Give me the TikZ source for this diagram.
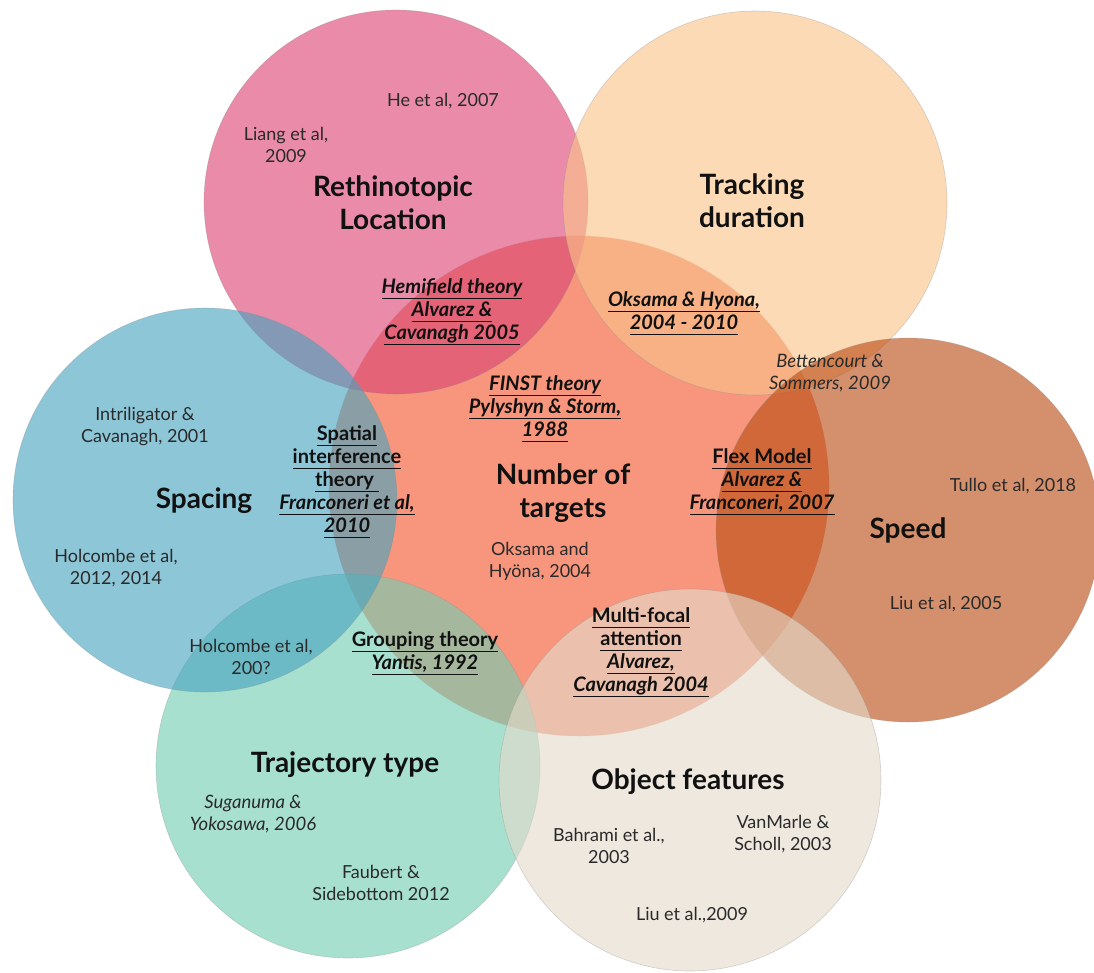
\documentclass[tikz,border=0pt]{standalone}
\usepackage{fontspec}
\setmainfont{Lato}
\definecolor{cCenter}{HTML}{F7967D}
\definecolor{cPink}{HTML}{DB4474}
\definecolor{cPeach}{HTML}{FAC389}
\definecolor{cSpeed}{HTML}{BA4C12}
\definecolor{cBlue}{HTML}{47A3BF}
\definecolor{cGreen}{HTML}{73CDB3}
\definecolor{cBeige}{HTML}{E4DACA}
\definecolor{txt}{HTML}{2A2A2A}
\definecolor{ttl}{HTML}{111111}
\newcommand\uln[1]{\underline{#1\vphantom{gy}}}
\tikzset{
  venn/.style={circle, inner sep=0pt, minimum size=#1, fill opacity=0.62, draw=black!45, draw opacity=0.35, line width=0.6pt},
  ref/.style={font=\fontsize{18}{22}\selectfont, align=center, text=txt, inner sep=0pt},
  refit/.style={font=\fontsize{18.5}{22}\selectfont\itshape, align=center, text=txt, inner sep=0pt},
  ttitle/.style={font=\fontsize{28}{33}\selectfont\bfseries, align=center, text=ttl, inner sep=0pt},
  theory/.style={font=\fontsize{20}{23}\selectfont\bfseries, align=center, text=ttl, inner sep=0pt}
}
\begin{document}
\begin{tikzpicture}[x=1pt,y=-1pt]
\useasboundingbox (0,0) rectangle (1094,972);
% circles (bottom to top)
\node[circle, inner sep=0pt, minimum size=500pt, fill=cCenter, draw=black!30, draw opacity=0.3, line width=0.6pt] (cnum) at (579,486) {};
\node[venn=384pt, fill=cPink] (cret) at (396,202) {};
\node[venn=384pt, fill=cPeach] (ctrk) at (755,203) {};
\node[venn=384pt, fill=cSpeed] (cspd) at (908,530) {};
\node[venn=384pt, fill=cGreen] (ctraj) at (348,766) {};
\node[venn=384pt, fill=cBlue] (cspc) at (205,500) {};
\node[venn=382pt, fill=cBeige] (cobj) at (690,780) {};
% titles
\node[ttitle] (tret) at (393,203) {Rethinotopic\\Location};
\node[ttitle] (ttrk) at (752,201) {Tracking\\duration};
\node[ttitle] (tspc) at (204,501) {Spacing};
\node[ttitle] (tnum) at (563,493) {Number of\\targets};
\node[ttitle] (tspd) at (908,530) {Speed};
\node[ttitle] (ttraj) at (345,765) {Trajectory type};
\node[ttitle] (tobj) at (688,782) {Object features};
% references
\node[ref] (he) at (443,101) {He et al, 2007};
\node[ref] (liang) at (286,145) {Liang et al,\\2009};
\node[refit] (bett) at (830,373) {Bettencourt \&\\Sommers, 2009};
\node[ref] (intr) at (145,427) {Intriligator \&\\Cavanagh, 2001};
\node[ref] (tullo) at (1013,486) {Tullo et al, 2018};
\node[ref] (holc1) at (116,568) {Holcombe et al,\\2012, 2014};
\node[ref] (oks) at (540,561) {Oksama and\\Hyöna, 2004};
\node[ref] (liu05) at (946,604) {Liu et al, 2005};
\node[ref] (holc2) at (251,657) {Holcombe et al,\\200?};
\node[refit] (sug) at (253,814) {Suganuma \&\\Yokosawa, 2006};
\node[ref] (vanm) at (783,834) {VanMarle \&\\Scholl, 2003};
\node[ref] (bahr) at (609,846) {Bahrami et al.,\\2003};
\node[ref] (faub) at (381,883) {Faubert \&\\Sidebottom 2012};
\node[ref] (liu09) at (692,915) {Liu et al.,2009};
% theories
\node[theory] (hemi) at (452,312) {\itshape\uln{Hemifield theory}\\\itshape\uln{Alvarez \&}\\\itshape\uln{Cavanagh 2005}};
\node[theory] (oksh) at (684,313) {\itshape\uln{Oksama \& Hyona,}\\\itshape\uln{2004 - 2010}};
\node[theory] (finst) at (545,409) {\itshape\uln{FINST theory}\\\itshape\uln{Pylyshyn \& Storm,}\\\itshape\uln{1988}};
\node[theory] (spat) at (347,482) {\uln{Spatial}\\\uln{interference}\\\uln{theory }\\\itshape\uln{Franconeri et al,}\\\itshape\uln{2010}};
\node[theory] (flex) at (762,482) {\uln{Flex Model}\\\itshape\uln{Alvarez \&}\\\itshape\uln{Franconeri, 2007}};
\node[theory] (grp) at (425,653) {\uln{Grouping theory}\\\itshape\uln{Yantis, 1992}};
\node[theory] (multi) at (641,652) {\uln{Multi-focal}\\\uln{attention}\\\itshape\uln{Alvarez,}\\\itshape\uln{Cavanagh 2004}};
\end{tikzpicture}
\end{document}
